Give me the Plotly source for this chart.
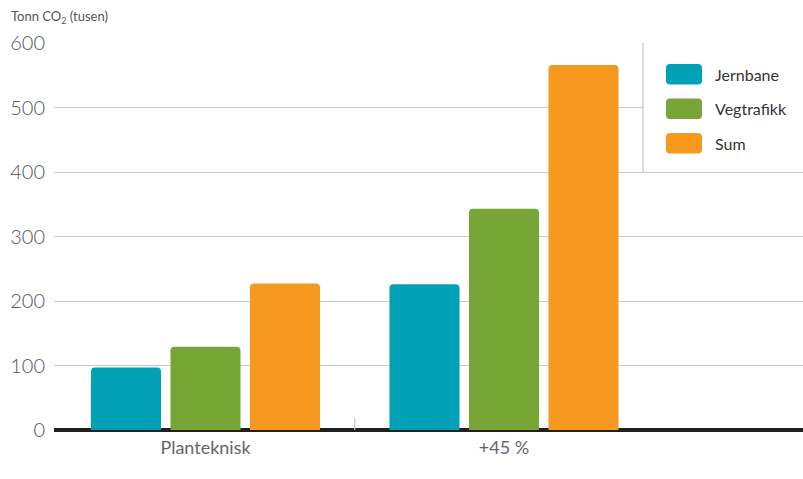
import plotly.graph_objects as go

categories = ["Planteknisk", "+45 %"]
series_names = ["Jernbane", "Vegtrafikk", "Sum"]
jernbane = [97, 226]
vegtrafikk = [129, 343]
sum_vals = [227, 566]
series_values = [jernbane, vegtrafikk, sum_vals]
colors = ["#00A0B7", "#77A636", "#F7981F"]
y_ticks = [0, 100, 200, 300, 400, 500, 600]

W, H = 803, 479
ML, MR, MT, MB = 54, 0, 43, 49
PW, PH = W - ML - MR, H - MT - MB

def px(x):
    return (x - ML) / PW

def py(y):
    return (H - MB - y) / PH

def rrect(x0, y0, x1, y1, r):
    X0, X1 = px(x0), px(x1)
    Y0, Y1 = py(y0), py(y1)
    rx, ry = r / PW, r / PH
    return (f"M {X0+rx},{Y0} L {X1-rx},{Y0} Q {X1},{Y0} {X1},{Y0-ry} "
            f"L {X1},{Y1+ry} Q {X1},{Y1} {X1-rx},{Y1} L {X0+rx},{Y1} "
            f"Q {X0},{Y1} {X0},{Y1+ry} L {X0},{Y0-ry} Q {X0},{Y0} {X0+rx},{Y0} Z")

fig = go.Figure()
for name, vals, col in zip(series_names, series_values, colors):
    fig.add_trace(go.Bar(x=categories, y=vals, name=name, marker_color=col,
                         marker_line_width=0, showlegend=False))

font_family = "Lato, 'Open Sans', sans-serif"
shapes = []
annotations = []

shapes.append(dict(type="rect", xref="paper", yref="y", x0=px(643.5), x1=1.0,
                   y0=404, y1=596, fillcolor="white", line_width=0, layer="above"))
shapes.append(dict(type="line", xref="paper", yref="y", x0=px(643), x1=px(643),
                   y0=400, y1=600, line=dict(color="#c8c8c8", width=1.2), layer="above"))
shapes.append(dict(type="line", xref="x", yref="paper", x0=0.5, x1=0.5,
                   y0=0, y1=py(418), line=dict(color="#c8c8c8", width=1.2), layer="above"))

sw_y = [64, 98.5, 133]
for i, (name, col) in enumerate(zip(series_names, colors)):
    shapes.append(dict(type="path", xref="paper", yref="paper",
                       path=rrect(666, sw_y[i], 702, sw_y[i] + 20.5, 4),
                       fillcolor=col, line_width=0, layer="above"))
    annotations.append(dict(text=name, xref="paper", yref="paper",
                            x=px(713), y=py(sw_y[i] + 10), xanchor="left", yanchor="middle",
                            showarrow=False,
                            font=dict(size=16, color="#333333", family=font_family)))

annotations.append(dict(text="Tonn CO<sub>2</sub> (tusen)", xref="paper", yref="paper",
                        x=px(9), y=py(17), xanchor="left", yanchor="middle", showarrow=False,
                        font=dict(size=13, color="#555555", family=font_family)))

fig.update_layout(
    width=W, height=H,
    margin=dict(l=ML, r=MR, t=MT, b=MB),
    paper_bgcolor="white", plot_bgcolor="white",
    barmode="group", bargap=0.201, bargroupgap=0.119, barcornerradius=4,
    font=dict(family=font_family, color="#555555"),
    xaxis=dict(range=[-0.5075, 2.0017], showgrid=False, showline=False, ticks="",
               automargin=False,
               tickfont=dict(size=18, color="#666666"), ticklabelstandoff=5, fixedrange=True),
    yaxis=dict(range=[0, 600], tickvals=y_ticks, showgrid=True, gridcolor="#c8c8c8",
               gridwidth=1.2, zeroline=True, zerolinecolor="#231f20", zerolinewidth=4,
               showline=False, ticks="", automargin=False,
               tickfont=dict(size=20, color="#555555", weight=300),
               ticklabelstandoff=8),
    shapes=shapes, annotations=annotations, showlegend=False,
)

fig.write_html("out.html", config={"displayModeBar": False},
               post_script="document.body.style.margin='0';document.body.style.overflow='hidden';")
